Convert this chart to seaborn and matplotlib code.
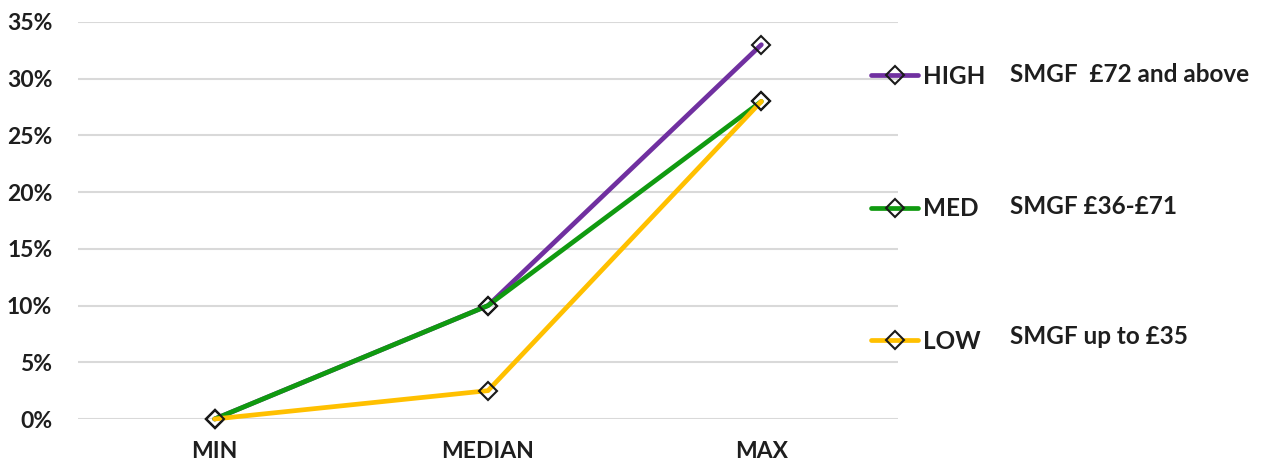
import matplotlib
matplotlib.use("Agg")
import matplotlib.pyplot as plt
import seaborn as sns
import pandas as pd
from matplotlib.ticker import FuncFormatter
from matplotlib.lines import Line2D

categories = ["MIN", "MEDIAN", "MAX"]
high = [0.0, 0.10, 0.33]
med = [0.0, 0.10, 0.28]
low = [0.0, 0.025, 0.28]
series_names = ["HIGH", "MED", "LOW"]
descriptions = ["SMGF  £72 and above", "SMGF £36-£71", "SMGF up to £35"]
colors = ["#7030A0", "#109A10", "#FFC000"]

rows = []
for name, vals in zip(series_names, [high, med, low]):
    for c, v in zip(categories, vals):
        rows.append({"cat": c, "val": v, "series": name})
df = pd.DataFrame(rows)

sns.set_theme(style="white")
plt.rcParams["font.family"] = ["Lato", "DejaVu Sans"]
plt.rcParams["font.weight"] = "bold"

fig = plt.figure(figsize=(12.62, 4.66), dpi=100)
ax = fig.add_axes([78/1262, 1-419/466, (898-78)/1262, (419-22)/466])

sns.lineplot(data=df, x="cat", y="val", hue="series", hue_order=series_names,
             palette=colors, ax=ax, linewidth=3.4, marker="D", markersize=9,
             markerfacecolor="none", markeredgecolor="#1a1a1a", markeredgewidth=1.5,
             legend=False, sort=False)
for ln in ax.get_lines():
    ln.set_clip_on(False)
    ln.set_markerfacecolor("none")

ax.set_xlim(-0.5, 2.5)
ax.set_ylim(0, 0.35)
ax.set_yticks([i * 0.05 for i in range(8)])
ax.yaxis.set_major_formatter(FuncFormatter(lambda v, p: f"{round(v*100)}%"))
ax.grid(axis="y", color="#D9D9D9", linewidth=1.5)
ax.set_axisbelow(True)
for s in ax.spines.values():
    s.set_visible(False)
ax.set_xlabel("")
ax.set_ylabel("")
ax.tick_params(axis="y", length=0, pad=18.5, labelsize=16.5, labelcolor="#1e1e1e")
ax.tick_params(axis="x", length=0, pad=16, labelsize=16.5, labelcolor="#1e1e1e")
for t in ax.get_xticklabels() + ax.get_yticklabels():
    t.set_fontweight("bold")

handles = [Line2D([0], [0], color=c, linewidth=3.4, marker="D", markersize=9,
                  markerfacecolor="none", markeredgecolor="#1a1a1a", markeredgewidth=1.5)
           for c in colors]
leg = fig.legend(handles, series_names, loc="upper left",
                 bbox_to_anchor=(871/1262, 1-65/466), frameon=False,
                 handlelength=1.95, handletextpad=0.17,
                 labelspacing=4.5, borderpad=0, borderaxespad=0,
                 prop={"weight": "bold", "size": 17.5})
for t in leg.get_texts():
    t.set_color("#1e1e1e")

for d, y in zip(descriptions, [75, 207, 337]):
    fig.text(1010/1262, 1-y/466, d, ha="left", va="center", fontsize=17.5,
             fontweight="bold", color="#1e1e1e")

fig.savefig("out.png", dpi=100)
